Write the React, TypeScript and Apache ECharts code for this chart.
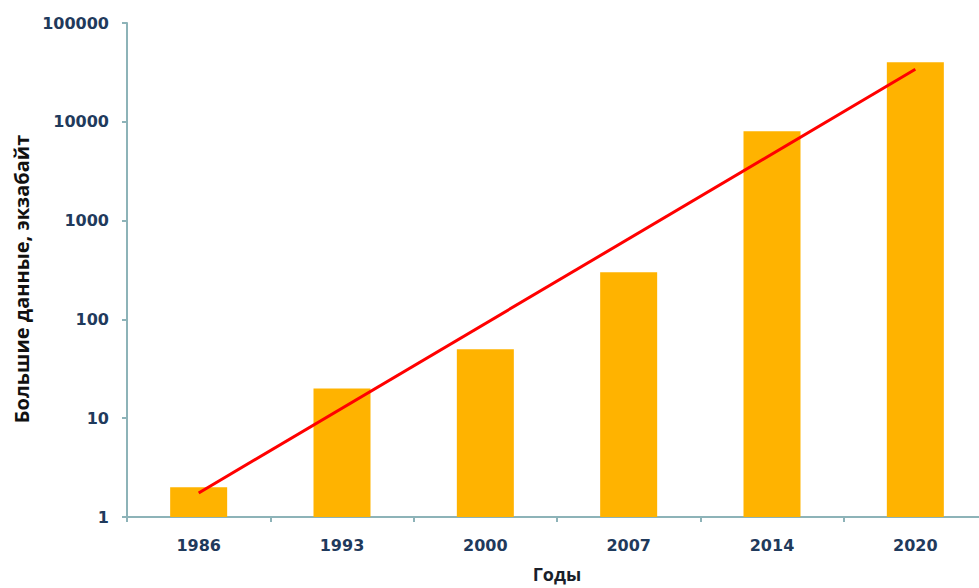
import React, { useEffect, useRef } from "react";
import * as echarts from "echarts";

const years = ["1986", "1993", "2000", "2007", "2014", "2020"];
const bigData = [2, 20, 50, 300, 8000, 40000];
const trend = [1.75, null, null, null, null, 34000];
const yTicks = [1, 10, 100, 1000, 10000, 100000];

export default function App() {
  const ref = useRef<HTMLDivElement>(null);
  useEffect(() => {
    if (!ref.current) return;
    const chart = echarts.init(ref.current, null, { renderer: "svg" });
    const labelColor = "#1f3a5c";
    const axisColor = "#8db3b8";
    chart.setOption({
      animation: false,
      backgroundColor: "#ffffff",
      grid: { left: 127, right: 8, top: 23, bottom: 71, containLabel: false },
      xAxis: {
        type: "category",
        data: years,
        name: "Годы",
        nameLocation: "middle",
        nameGap: 48,
        nameTextStyle: { fontFamily: "Open Sans", fontWeight: "bold", fontSize: 18, color: "#1a1f2a" },
        axisLine: { lineStyle: { color: axisColor, width: 2 } },
        axisTick: { show: true, alignWithLabel: false, length: 5, lineStyle: { color: axisColor, width: 2 } },
        axisLabel: { margin: 20, fontFamily: "DejaVu Sans", fontWeight: "bold", fontSize: 16, color: labelColor },
        splitLine: { show: false },
      },
      yAxis: {
        type: "log",
        logBase: 10,
        min: yTicks[0],
        max: yTicks[yTicks.length - 1],
        name: "Большие данные, экзабайт",
        nameLocation: "middle",
        nameGap: 96,
        nameTextStyle: {
          fontFamily: "Open Sans",
          fontWeight: "bold",
          fontSize: 20,
          color: "#111111",
          padding: [0, 18, 0, 0],
        },
        axisLine: { show: true, lineStyle: { color: axisColor, width: 2 } },
        axisTick: { show: true, length: 5, lineStyle: { color: axisColor, width: 2 } },
        axisLabel: {
          margin: 18,
          fontFamily: "DejaVu Sans",
          fontWeight: "bold",
          fontSize: 16,
          color: labelColor,
          formatter: (v: number) => String(Math.round(v)),
        },
        splitLine: { show: false },
      },
      series: [
        {
          type: "bar",
          data: bigData,
          barWidth: 57,
          itemStyle: { color: "#FFB300" },
        },
        {
          type: "line",
          data: trend,
          connectNulls: true,
          showSymbol: false,
          symbol: "none",
          lineStyle: { color: "#FF0000", width: 3 },
          z: 5,
        },
      ],
    });
    return () => chart.dispose();
  }, []);
  return (
    <div
      style={{ position: "fixed", left: 0, top: 0, width: 979, height: 588, overflow: "hidden", background: "#fff" }}
    >
      <div ref={ref} style={{ width: 995, height: 588 }} />
    </div>
  );
}
